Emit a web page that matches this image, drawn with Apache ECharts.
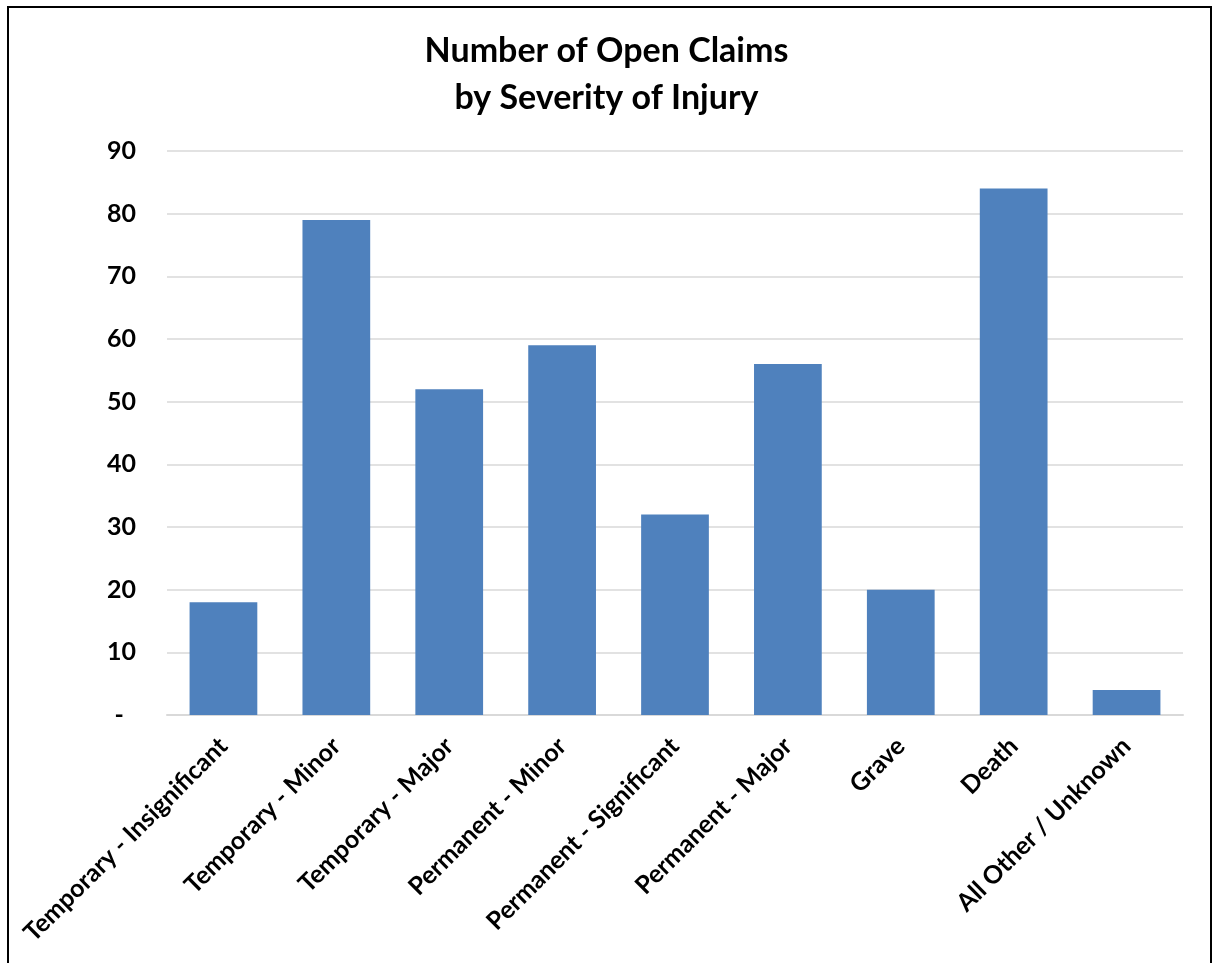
<!DOCTYPE html>
<html>
<head>
<meta charset="utf-8">
<script src="https://cdn.jsdelivr.net/npm/echarts@6/dist/echarts.min.js"></script>
<style>
  html, body { margin: 0; padding: 0; background: #fff; }
  #chart { width: 1213px; height: 963px; }
</style>
</head>
<body>
<div id="chart"></div>
<script>
// Severity categories and open-claim counts
const categories = [
  'Temporary - Insignificant',
  'Temporary - Minor',
  'Temporary - Major',
  'Permanent - Minor',
  'Permanent - Significant',
  'Permanent - Major',
  'Grave',
  'Death',
  'All Other / Unknown'
];
const openClaims = [18, 79, 52, 59, 32, 56, 20, 84, 4];
const yTicks = { min: 0, max: 90, interval: 10 };

const FONT = 'Lato, "Open Sans", sans-serif';

const chart = echarts.init(document.getElementById('chart'));
chart.setOption({
  animation: false,
  backgroundColor: '#ffffff',
  title: {
    text: 'Number of Open Claims\nby Severity of Injury',
    left: 'center',
    top: 23,
    textStyle: {
      fontFamily: FONT,
      fontWeight: 'bold',
      fontSize: 34,
      lineHeight: 47,
      color: '#000'
    }
  },
  graphic: [{
    type: 'rect',
    shape: { x: 8, y: 7, width: 1203, height: 1000 },
    style: { fill: 'none', stroke: '#000', lineWidth: 2 },
    silent: true
  }],
  grid: { left: 167, right: 30, top: 151, bottom: 248 },
  xAxis: {
    type: 'category',
    data: categories,
    axisLine: { lineStyle: { color: '#d9d9d9', width: 2 } },
    axisTick: { show: false },
    axisLabel: {
      rotate: 45,
      interval: 0,
      margin: 27,
      fontFamily: FONT,
      fontWeight: 'bold',
      fontSize: 25,
      color: '#000'
    }
  },
  yAxis: {
    type: 'value',
    min: yTicks.min,
    max: yTicks.max,
    interval: yTicks.interval,
    axisLine: { show: false },
    axisTick: { show: false },
    splitLine: { lineStyle: { color: '#d9d9d9', width: 1.5 } },
    axisLabel: {
      margin: 31,
      fontFamily: FONT,
      fontWeight: 'bold',
      fontSize: 25,
      color: '#000',
      formatter: v => (v === 0 ? '-  ' : String(v))
    }
  },
  series: [{
    type: 'bar',
    data: openClaims,
    barCategoryGap: '40%',
    itemStyle: { color: '#4f81bd' }
  }]
});
</script>
</body>
</html>
